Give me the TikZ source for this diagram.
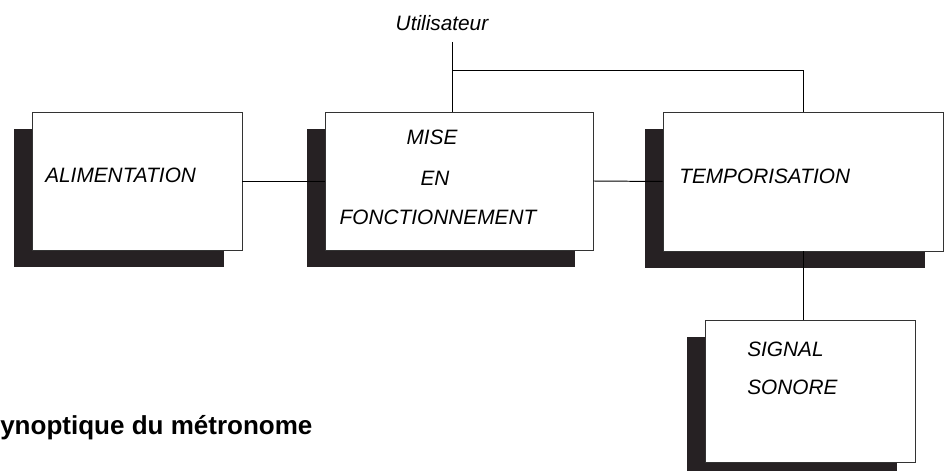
\documentclass[tikz,border=0pt]{standalone}
\usepackage{fontspec}
\setmainfont{Liberation Sans}
\usetikzlibrary{shadows}
\definecolor{ombre}{RGB}{38,33,35}

\begin{document}
\begin{tikzpicture}[x=0.025cm,y=-0.025cm,
  bloc/.style={draw=black!80, line width=0.5pt, fill=white, inner sep=0pt,
    drop shadow={shadow xshift=-0.45cm, shadow yshift=-0.43cm, fill=ombre, opacity=1}},
  etiq/.style={inner sep=0pt, font=\fontsize{14.8}{17}\selectfont\itshape},
  liaison/.style={line width=0.7pt, black}]
\useasboundingbox (0,0) rectangle (947,471);

% Blocs
\node[bloc, minimum width=5.25cm, minimum height=3.45cm] (alim) at (137,181) {};
\node[bloc, minimum width=6.7cm, minimum height=3.45cm] (mise) at (459,181) {};
\node[bloc, minimum width=7cm, minimum height=3.48cm] (tempo) at (803,181.5) {};
\node[bloc, minimum width=5.25cm, minimum height=3.55cm] (signal) at (810,391) {};

% Textes des blocs
\node[etiq, anchor=west] (t-alim) at (45,175) {ALIMENTATION};
\node[etiq] (t-mise) at (432,137) {MISE};
\node[etiq] (t-en) at (435,178) {EN};
\node[etiq] (t-fonct) at (438,217) {FONCTIONNEMENT};
\node[etiq, anchor=west] (t-tempo) at (679,176) {TEMPORISATION};
\node[etiq, anchor=west] (t-signal) at (747,349) {SIGNAL};
\node[etiq, anchor=west] (t-sonore) at (747,387) {SONORE};

% Utilisateur
\node[etiq] (t-util) at (442,23) {Utilisateur};
\coordinate (util) at (452,42);
\coordinate (branche) at (452,70);

% Liaisons
\draw[liaison] (alim.east) -- (mise.west);
\draw[liaison] (mise.east) -- (tempo.west);
\draw[liaison] (util) -- (util |- mise.north);
\draw[liaison] (branche) -| (tempo.north);
\draw[liaison] (tempo.south) -- (tempo.south |- signal.north);

% Titre
\node[anchor=base west, inner sep=0pt, font=\fontsize{18.5}{20}\selectfont\bfseries] (titre) at (0,435) {ynoptique du métronome};
\end{tikzpicture}
\end{document}
